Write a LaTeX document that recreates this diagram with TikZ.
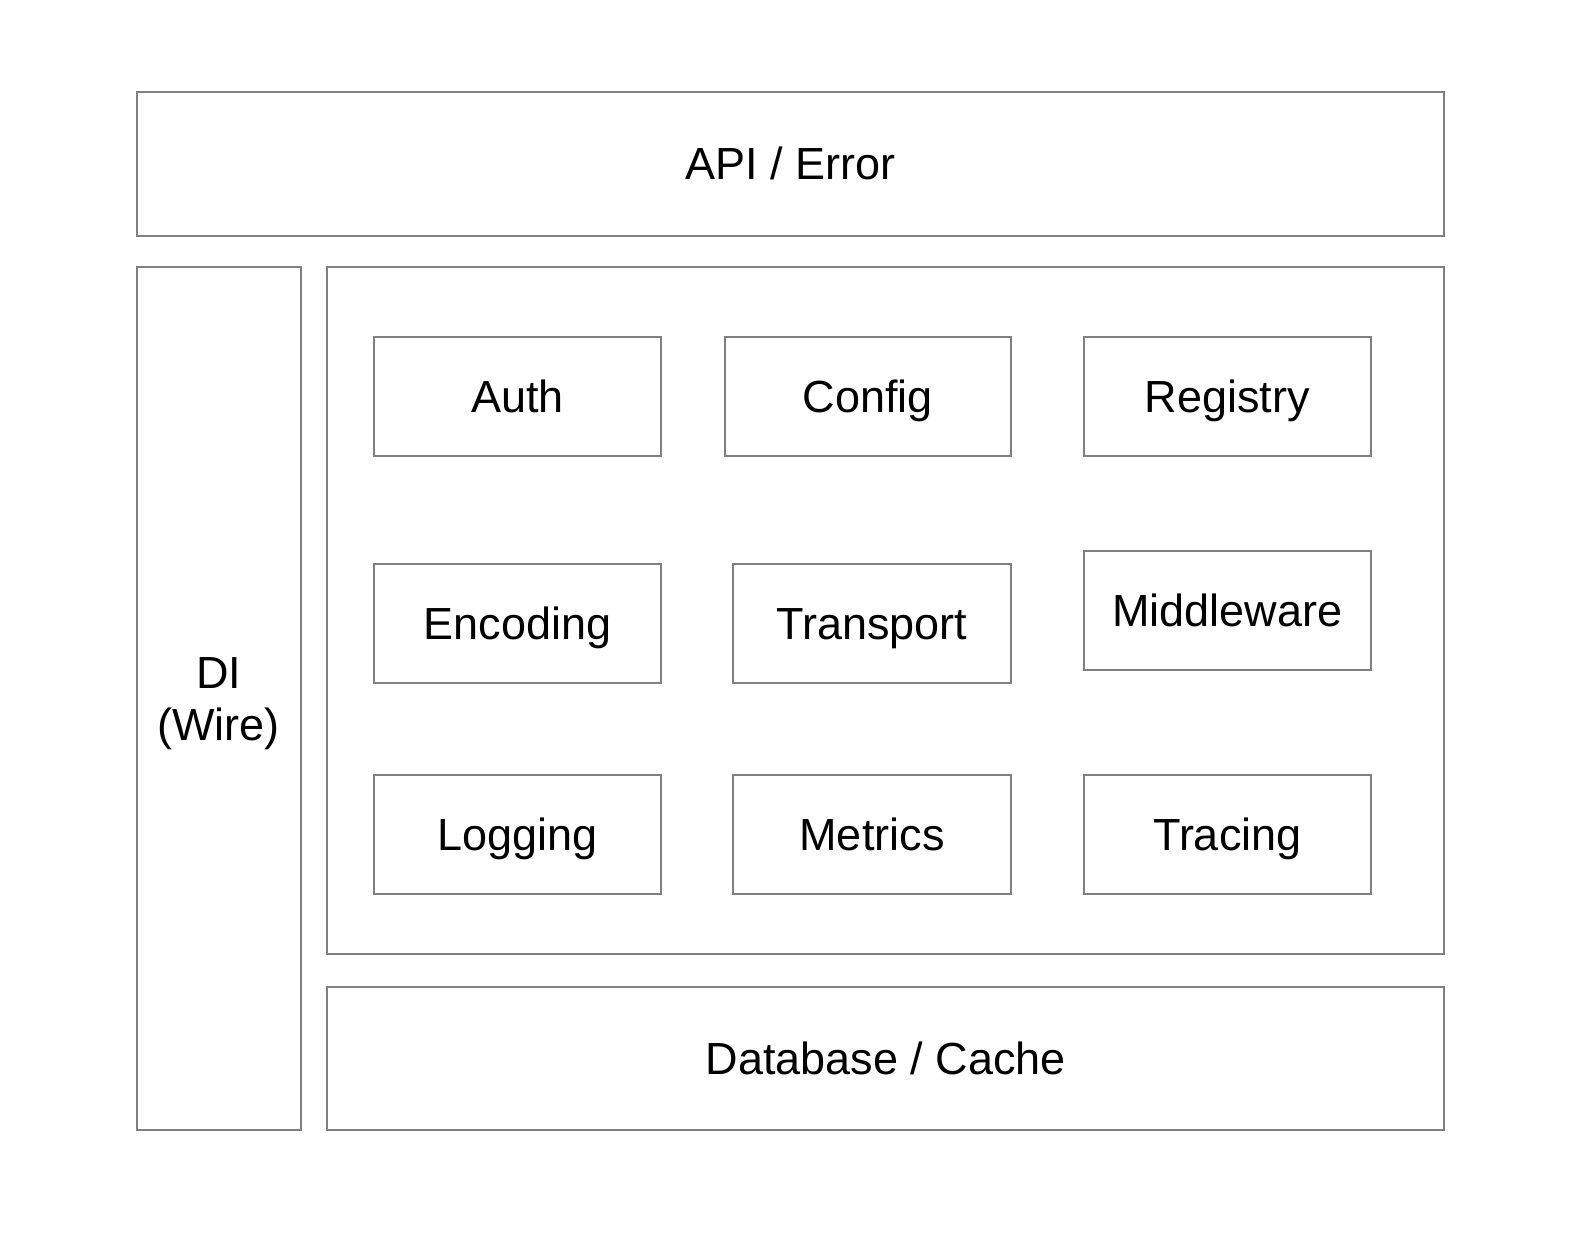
\documentclass[tikz,border=0pt]{standalone}
\usepackage{fontspec}
\setmainfont{Liberation Sans}
\definecolor{edgegray}{HTML}{808080}
\begin{document}
\begin{tikzpicture}[x=1pt,y=-1pt,
  box/.style={draw=edgegray, line width=2.2pt, fill=white, inner sep=0pt,
    font=\fontsize{45}{52}\selectfont, text=black,
    text height=32.2pt, text depth=0pt},
  mod/.style={box, minimum width=286.7pt, minimum height=119.3pt},
  modn/.style={box, minimum width=277.4pt, minimum height=119.3pt}]
\useasboundingbox (0,0) rectangle (1594,1234);
\fill[white] (0,0) rectangle (1594,1234);
% outer layers
\node[box, minimum width=1307.3pt, minimum height=143.7pt] (api) at (790.35,163.85) {API / Error};
\node[box, minimum width=164pt, minimum height=863.3pt, align=center, text height=84.2pt] (di) at (218.7,698.35) {DI\\(Wire)};
\node[box, minimum width=1116.7pt, minimum height=687.3pt] (core) at (885.65,610.35) {};
\node[box, minimum width=1116.7pt, minimum height=143.3pt] (db) at (885.65,1058.35) {Database / Cache};
% row 1
\node[mod] (auth) at (517.35,396.35) {Auth};
\node[box, minimum width=285.7pt, minimum height=119.3pt] (config) at (867.85,396.35) {Config};
\node[mod] (registry) at (1227.35,396.35) {Registry};
% row 2
\node[mod] (encoding) at (517.35,623.65) {Encoding};
\node[modn] (transport) at (872,623.65) {Transport};
\node[mod] (middleware) at (1227.35,610.35) {Middleware};
% row 3
\node[mod] (logging) at (517.35,834.65) {Logging};
\node[modn] (metrics) at (872,834.65) {Metrics};
\node[mod] (tracing) at (1227.35,834.65) {Tracing};
\end{tikzpicture}
\end{document}
